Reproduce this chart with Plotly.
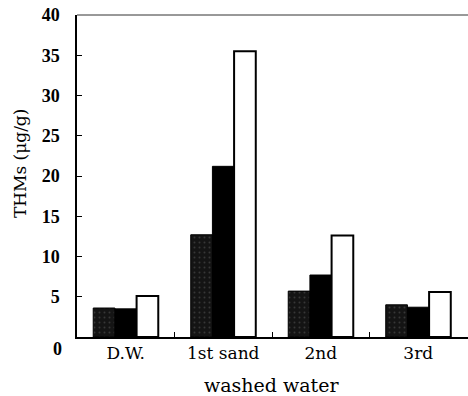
import plotly.graph_objects as go

categories = ["D.W.", "1st sand", "2nd", "3rd"]
series1 = [3.6, 12.7, 5.7, 4.0]
series2 = [3.5, 21.2, 7.7, 3.7]
series3 = [5.1, 35.5, 12.6, 5.6]
y_ticks = [0, 5, 10, 15, 20, 25, 30, 35, 40]
y_ticktext = ["", "5", "10", "15", "20", "25", "30", "35", "40"]

serif = "DejaVu Serif, serif"
bold_serif = "Liberation Serif, Times New Roman, serif"

pos = list(range(len(categories)))
boundaries = [p + 0.5 for p in pos[:-1]]

fig = go.Figure()
fig.add_trace(go.Bar(x=pos, y=series1, name="1",
                     marker=dict(color="#141414", line=dict(color="black", width=1),
                                 pattern=dict(shape=".", fgcolor="#5a5a5a", bgcolor="#141414",
                                              size=5, solidity=0.12))))
fig.add_trace(go.Bar(x=pos, y=series2, name="2",
                     marker=dict(color="black", line=dict(color="black", width=1))))
fig.add_trace(go.Bar(x=pos, y=series3, name="3",
                     marker=dict(color="white", line=dict(color="black", width=2))))

# the plot area runs past the right edge of the 468px window (open frame on the right)
fig.update_layout(
    width=480, height=396,
    margin=dict(l=77, r=1, t=15, b=59, autoexpand=False),
    barmode="group", bargap=0.333, bargroupgap=0,
    showlegend=False,
    plot_bgcolor="white", paper_bgcolor="white",
    font=dict(family=serif, color="black"),
)
fig.update_xaxes(
    range=[-0.5, 3.623], automargin=False,
    tickvals=pos, ticktext=categories, ticks="",
    minor=dict(tickvals=boundaries, ticks="inside", ticklen=5, tickcolor="black", showgrid=False),
    showline=True, linecolor="black", linewidth=1.5, mirror=False,
    showgrid=False, zeroline=False,
    tickfont=dict(family=serif, size=17, color="black"),
)
fig.update_yaxes(
    range=[0, 40], tickvals=y_ticks, ticktext=y_ticktext, automargin=False,
    showline=True, linecolor="black", linewidth=1.5, mirror=False,
    ticks="inside", ticklen=5, tickcolor="black",
    showgrid=False, zeroline=False,
    ticklabelstandoff=12,
    tickfont=dict(family=bold_serif, size=18, color="black", weight="bold"),
)
# thin top frame line
fig.add_shape(type="line", xref="paper", yref="paper", x0=0, x1=1, y0=1, y1=1,
              line=dict(color="#333333", width=1))
fig.add_annotation(x=0, y=0, xref="paper", yref="y", text="0", showarrow=False,
                   xanchor="right", yanchor="middle", xshift=-13, yshift=-12,
                   font=dict(family=bold_serif, size=18, color="black", weight="bold"))
fig.add_annotation(x=0.4838, y=-0.149, xref="paper", yref="paper", text="washed water",
                   showarrow=False, xanchor="center", yanchor="middle",
                   font=dict(family=serif, size=19, color="black"))
fig.add_annotation(x=-0.1418, y=0.54, xref="paper", yref="paper", text="THMs (μg/g)",
                   showarrow=False, xanchor="center", yanchor="middle", textangle=-90,
                   font=dict(family=serif, size=17, color="black"))

fig.write_html(
    "out.html",
    config={"displayModeBar": False},
    post_script="document.body.style.margin='0';document.body.style.overflow='hidden';",
)
